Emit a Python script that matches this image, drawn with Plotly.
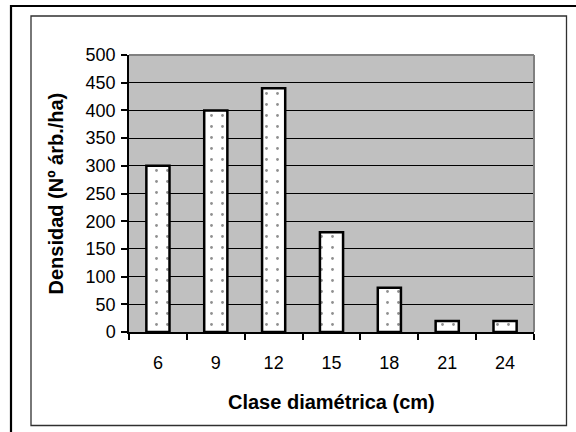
import plotly.graph_objects as go

categories = ["6", "9", "12", "15", "18", "21", "24"]
densidad = [300, 400, 440, 180, 80, 20, 20]
y_ticks = [0, 50, 100, 150, 200, 250, 300, 350, 400, 450, 500]

W, H = 576, 432
L, R, T, B = 129, 42, 55, 100
PW, PH = W - L - R, H - T - B


def px(x):
    return (x - L) / PW


def py(y):
    return (H - B - y) / PH


FONT = "Arial, Liberation Sans, sans-serif"

fig = go.Figure()
fig.add_trace(go.Bar(
    x=categories,
    y=densidad,
    width=0.4,
    marker=dict(
        color="white",
        line=dict(color="black", width=2.5),
        pattern=dict(shape=".", size=11, solidity=0.05,
                     fgcolor="#202020", bgcolor="white", fillmode="overlay"),
    ),
    showlegend=False,
))

shapes = [
    # plot area top/right border (gray)
    dict(type="line", xref="paper", yref="paper", x0=0, x1=1, y0=1, y1=1,
         line=dict(color="#808080", width=2)),
    dict(type="line", xref="paper", yref="paper", x0=1, x1=1, y0=0, y1=1,
         line=dict(color="#808080", width=2)),
    # inner chart frame
    dict(type="rect", xref="paper", yref="paper",
         x0=px(31), x1=px(566.5), y0=py(425.5), y1=py(16),
         line=dict(color="#303030", width=1.3), fillcolor="rgba(0,0,0,0)"),
    # outer frame (top and left)
    dict(type="line", xref="paper", yref="paper",
         x0=px(10), x1=px(580), y0=py(6), y1=py(6),
         line=dict(color="black", width=2.2)),
    dict(type="line", xref="paper", yref="paper",
         x0=px(11), x1=px(11), y0=py(5), y1=py(440),
         line=dict(color="black", width=2.2)),
]

annotations = [
    dict(text="<b>Clase diamétrica (cm)</b>", xref="paper", yref="paper",
         x=0.5, y=py(402), xanchor="center", yanchor="middle", showarrow=False,
         font=dict(family=FONT, size=20, color="black")),
    dict(text="<b>Densidad (Nº árb./ha)</b>", xref="paper", yref="paper",
         x=px(55), y=0.5, xanchor="center", yanchor="middle", showarrow=False,
         textangle=-90, font=dict(family=FONT, size=20, color="black")),
]

fig.update_layout(
    width=W, height=H,
    margin=dict(l=L, r=R, t=T, b=B, autoexpand=False),
    paper_bgcolor="white",
    plot_bgcolor="#C0C0C0",
    font=dict(family=FONT, size=18, color="black"),
    shapes=shapes,
    annotations=annotations,
    bargap=0.6,
)

fig.update_xaxes(
    type="category",
    tickson="boundaries",
    ticks="outside", ticklen=6, tickwidth=1.5, tickcolor="black",
    showline=True, linecolor="black", linewidth=1.5,
    showgrid=False,
    tickfont=dict(family=FONT, size=18, color="black"),
    ticklabelstandoff=14,
    range=[-0.5, 6.5],
)

fig.update_yaxes(
    range=[0, 500],
    tickvals=y_ticks,
    ticks="outside", ticklen=6, tickwidth=1.5, tickcolor="black",
    showline=True, linecolor="black", linewidth=1.5,
    showgrid=True, gridcolor="black", gridwidth=1,
    zeroline=False,
    tickfont=dict(family=FONT, size=18, color="black"),
    ticklabelstandoff=2,
)

fig.write_html("out.html")
